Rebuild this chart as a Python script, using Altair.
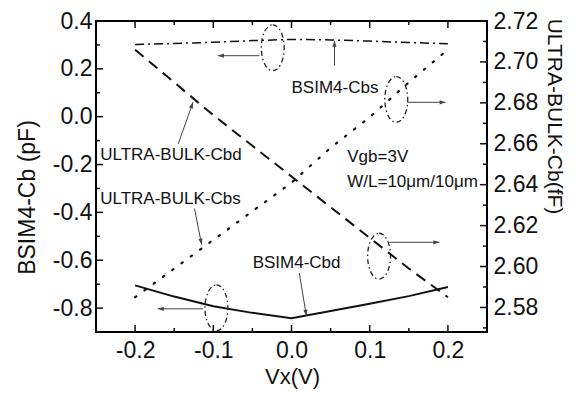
import math
import altair as alt
import pandas as pd

# ---------------- data ----------------
vx = [-0.2, -0.15, -0.1, -0.05, 0.0, 0.05, 0.1, 0.15, 0.2]
bsim4_cbs = [0.302, 0.306, 0.311, 0.318, 0.323, 0.321, 0.316, 0.310, 0.305]      # left axis (pF)
bsim4_cbd = [-0.705, -0.752, -0.792, -0.820, -0.842, -0.812, -0.782, -0.750, -0.712]  # left axis (pF)
ultra_cbs = [2.585, 2.599, 2.613, 2.627, 2.641, 2.658, 2.673, 2.690, 2.706]     # right axis (fF)
ultra_cbd = [2.706, 2.690, 2.674, 2.659, 2.644, 2.629, 2.614, 2.599, 2.585]     # right axis (fF)

x_major = [-0.2, -0.1, 0.0, 0.1, 0.2]
x_minor = [-0.15, -0.05, 0.05, 0.15]
yl_major = [-0.8, -0.6, -0.4, -0.2, 0.0, 0.2, 0.4]
yl_minor = [-0.9, -0.7, -0.5, -0.3, -0.1, 0.1, 0.3]
yr_major = [2.58, 2.60, 2.62, 2.64, 2.66, 2.68, 2.70, 2.72]
yr_minor = [2.57, 2.59, 2.61, 2.63, 2.65, 2.67, 2.69, 2.71]

# annotations (in Vx / left-axis units)
ell_x = [-0.024, 0.134, 0.112, -0.096]
ell_y = [0.288, 0.072, -0.583, -0.799]

arr_x1 = [-0.041, 0.148, 0.125, -0.113, 0.055, -0.145, -0.124, 0.010]
arr_y1 = [0.255, 0.060, -0.525, -0.803, 0.213, -0.115, -0.384, -0.654]
arr_x2 = [-0.094, 0.197, 0.189, -0.171, 0.055, -0.126, -0.115, 0.019]
arr_y2 = [0.255, 0.060, -0.525, -0.803, 0.317, 0.060, -0.534, -0.832]

lab_text = ["BSIM4-Cbs", "ULTRA-BULK-Cbd", "ULTRA-BULK-Cbs", "BSIM4-Cbd",
            "Vgb=3V", "W/L=10\u03bcm/10\u03bcm"]
lab_x = [0.0, -0.2446, -0.2446, -0.0497, 0.0713, 0.0713]
lab_y = [0.122, -0.160, -0.343, -0.612, -0.168, -0.272]

# ---------------- layout ----------------
W, H = 391, 311
XD = [-0.25, 0.25]
YLD = [-0.9, 0.4]
YRD = [2.568, 2.72]
FONT = "Liberation Sans"
INK = "#111111"

PX_X = W / (XD[1] - XD[0])
PX_Y = H / (YLD[1] - YLD[0])

minus_fix = "replace(format(datum.value, '{f}'), '\u2212', '-')"

x_axis = alt.Axis(values=x_major, labelExpr=minus_fix.format(f='.1f'), ticks=False, tickSize=0,
                  domain=False, grid=False, labelFont=FONT, labelFontSize=23, labelColor=INK,
                  labelPadding=18, labelBaseline="middle", labelFlush=False,
                  title="Vx(V)", titleFont=FONT, titleFontSize=22, titleFontWeight="normal",
                  titleColor=INK, titleX=196, titleY=44, titleAlign="center", titleBaseline="middle")
yl_axis = alt.Axis(values=yl_major, labelExpr=minus_fix.format(f='.1f'), ticks=False, tickSize=0,
                   domain=False, grid=False, labelFont=FONT, labelFontSize=23, labelColor=INK,
                   labelPadding=4, labelOverlap=False,
                   title="BSIM4-Cb (pF)", titleFont=FONT, titleFontSize=23, titleFontWeight="normal",
                   titleColor=INK, titleX=-69, titleY=176, titleAngle=270, titleAlign="center",
                   titleBaseline="middle")
yr_axis = alt.Axis(values=yr_major, format=".2f", orient="right", ticks=False, tickSize=0,
                   domain=False, grid=False, labelFont=FONT, labelFontSize=23, labelColor=INK,
                   labelPadding=6, labelOverlap=False,
                   title="ULTRA-BULK-Cb(fF)", titleFont=FONT, titleFontSize=21, titleFontWeight="normal",
                   titleColor=INK, titleX=66, titleY=95, titleAngle=90, titleAlign="center",
                   titleBaseline="middle")

def X(f):
    return alt.X(f, type="quantitative", scale=alt.Scale(domain=XD, nice=False, zero=False), axis=x_axis)

def YL(f):
    return alt.Y(f, type="quantitative", scale=alt.Scale(domain=YLD, nice=False, zero=False), axis=yl_axis)

def YR(f):
    return alt.Y(f, type="quantitative", scale=alt.Scale(domain=YRD, nice=False, zero=False), axis=yr_axis)

df_bcbs = pd.DataFrame({"x": vx, "y": bsim4_cbs})
df_bcbd = pd.DataFrame({"x": vx, "y": bsim4_cbd})
df_ucbs = pd.DataFrame({"x": vx, "y": ultra_cbs})
df_ucbd = pd.DataFrame({"x": vx, "y": ultra_cbd})
df_ell = pd.DataFrame({"x": ell_x, "y": ell_y})

angles = []
for a, b, c, d in zip(arr_x1, arr_y1, arr_x2, arr_y2):
    dx = (c - a) * PX_X
    dy = -(d - b) * PX_Y
    angles.append(math.degrees(math.atan2(dx, -dy)) % 360)
df_arr = pd.DataFrame({"x": arr_x1, "y": arr_y1, "x2": arr_x2, "y2": arr_y2, "ang": angles})
df_head = pd.DataFrame({"x": arr_x2, "y": arr_y2, "ang": angles})
df_lab = pd.DataFrame({"x": lab_x, "y": lab_y, "t": lab_text})

ELLIPSE = "M0,-1A0.5,1,0,1,1,0,1A0.5,1,0,1,1,0,-1Z"
HEAD = "M0,0L0.6,1.7L-0.6,1.7Z"

# ---------------- left-axis group ----------------
l_cbs = alt.Chart(df_bcbs).mark_line(color=INK, strokeWidth=1.5, strokeDash=[9, 4, 2, 4]).encode(
    x=X("x"), y=YL("y"))
l_cbd = alt.Chart(df_bcbd).mark_line(color=INK, strokeWidth=2).encode(x=X("x"), y=YL("y"))
ells = alt.Chart(df_ell).mark_point(shape=ELLIPSE, size=2100, filled=False, stroke="#222222",
                                    strokeWidth=1.3, strokeDash=[5, 3, 1.5, 3], opacity=1).encode(
    x=X("x"), y=YL("y"))
shafts = alt.Chart(df_arr).mark_rule(color="#444444", strokeWidth=1).encode(
    x=X("x"), x2=alt.X2("x2"), y=YL("y"), y2=alt.Y2("y2"))
heads = alt.Chart(df_head).mark_point(shape=HEAD, size=49, filled=True, color="#444444", opacity=1).encode(
    x=X("x"), y=YL("y"), angle=alt.Angle("ang:Q", scale=None))
labels = alt.Chart(df_lab).mark_text(align="left", baseline="middle", font=FONT, fontSize=17,
                                     color=INK).encode(x=X("x"), y=YL("y"), text="t:N")

df_xmaj = pd.DataFrame({"v": x_major})
df_xmin = pd.DataFrame({"v": x_minor})
df_ylmaj = pd.DataFrame({"y": yl_major})
df_ylmin = pd.DataFrame({"y": yl_minor})
df_yrmaj = pd.DataFrame({"y": yr_major})
df_yrmin = pd.DataFrame({"y": yr_minor})

tick = dict(color=INK, strokeWidth=1.5)
bx_maj = alt.Chart(df_xmaj).mark_rule(**tick).encode(x=X("v"), y=alt.value(H), y2=alt.value(H - 7))
bx_min = alt.Chart(df_xmin).mark_rule(**tick).encode(x=X("v"), y=alt.value(H), y2=alt.value(H - 4))
tx_maj = alt.Chart(df_xmaj).mark_rule(**tick).encode(x=X("v"), y=alt.value(0), y2=alt.value(7))
tx_min = alt.Chart(df_xmin).mark_rule(**tick).encode(x=X("v"), y=alt.value(0), y2=alt.value(4))
ly_maj = alt.Chart(df_ylmaj).mark_rule(**tick).encode(y=YL("y"), x=alt.value(0), x2=alt.value(7))
ly_min = alt.Chart(df_ylmin).mark_rule(**tick).encode(y=YL("y"), x=alt.value(0), x2=alt.value(4))

left = alt.layer(l_cbs, l_cbd, ells, shafts, heads, labels,
                 bx_maj, bx_min, tx_maj, tx_min, ly_maj, ly_min)

# ---------------- right-axis group ----------------
r_cbs = alt.Chart(df_ucbs).mark_line(color=INK, strokeWidth=2.2, strokeDash=[1.5, 10],
                                     strokeCap="round").encode(x=X("x"), y=YR("y"))
r_cbd = alt.Chart(df_ucbd).mark_line(color=INK, strokeWidth=2, strokeDash=[11, 7]).encode(
    x=X("x"), y=YR("y"))
ry_maj = alt.Chart(df_yrmaj).mark_rule(**tick).encode(y=YR("y"), x=alt.value(W), x2=alt.value(W - 7))
ry_min = alt.Chart(df_yrmin).mark_rule(**tick).encode(y=YR("y"), x=alt.value(W), x2=alt.value(W - 4))

right = alt.layer(r_cbs, r_cbd, ry_maj, ry_min)

chart = alt.layer(left, right).resolve_scale(y="independent").properties(
    width=W, height=H,
    padding={"left": 88, "top": 13, "right": 80, "bottom": 68},
    autosize=alt.AutoSizeParams(type="none"),
    background="white",
).configure_view(stroke="black", strokeWidth=2)

chart.save("out.html", embed_options={"renderer": "svg", "actions": False})
